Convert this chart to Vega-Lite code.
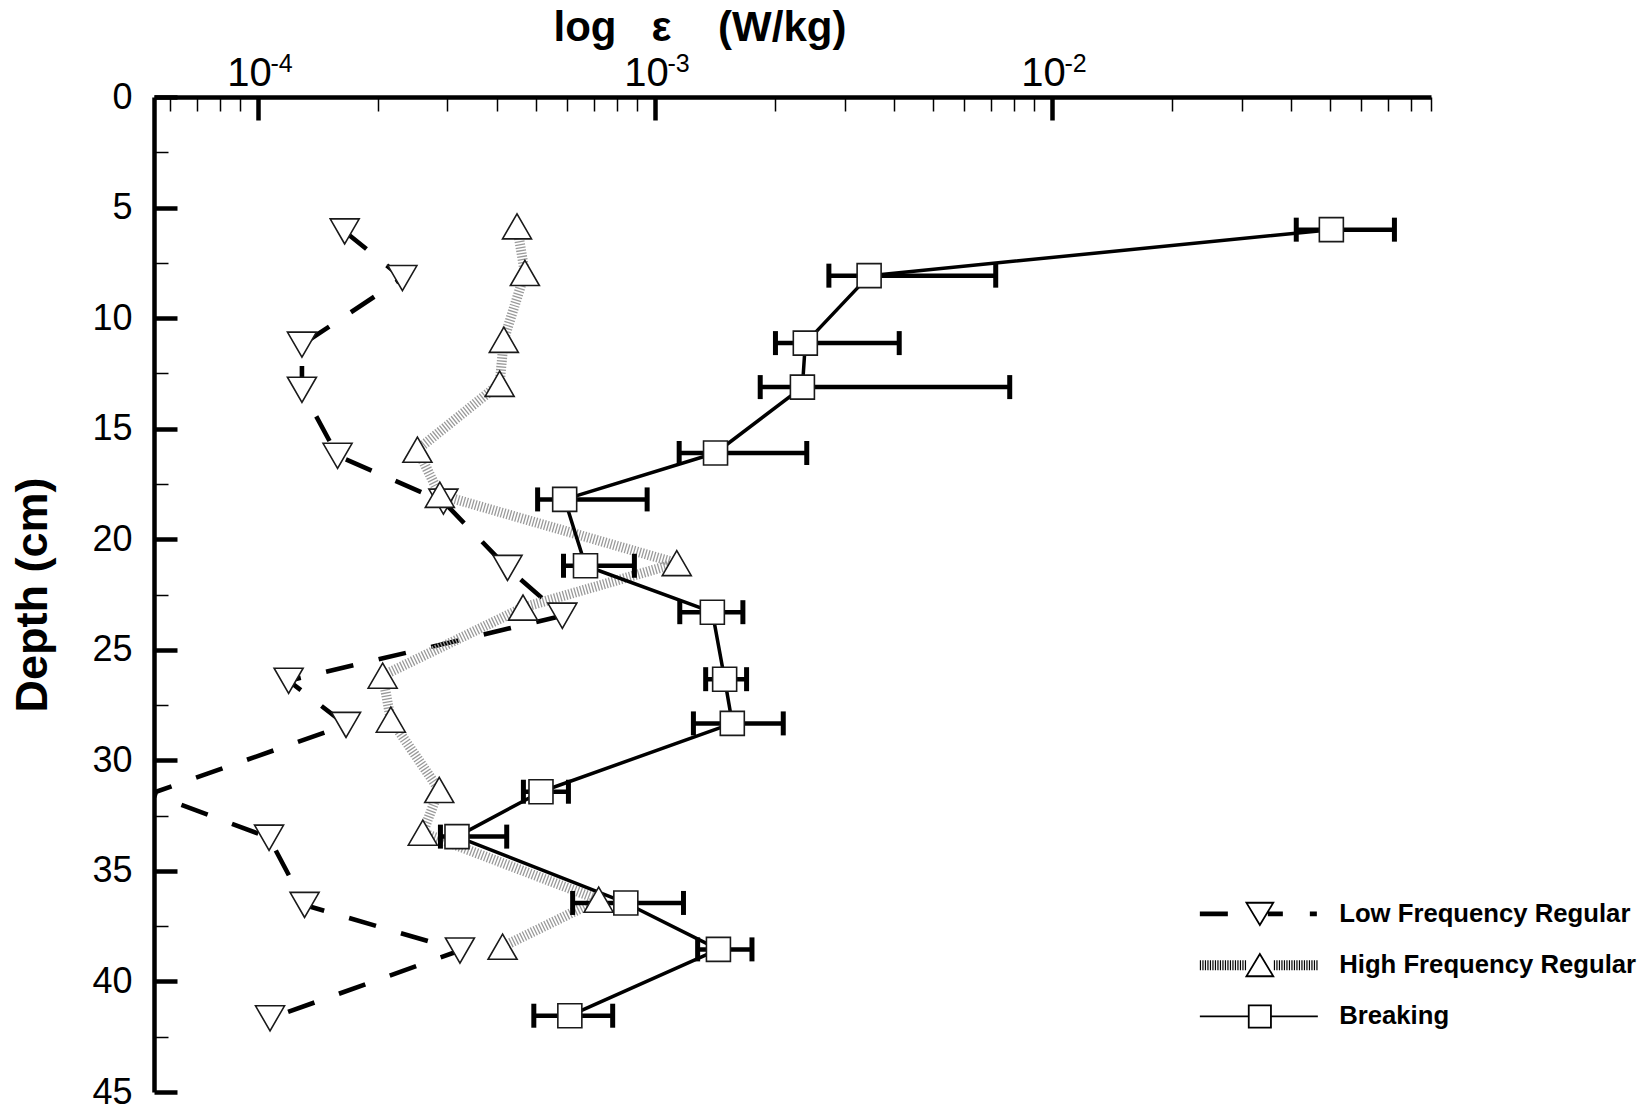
{
  "$schema": "https://vega.github.io/schema/vega-lite/v6.json",
  "width": 1277,
  "height": 995,
  "autosize": {"type": "none"},
  "padding": {"left": 154, "top": 97, "right": 212, "bottom": 18},
  "background": "white",
  "config": {
    "font": "Liberation Sans",
    "view": {"stroke": null},
    "axis": {"grid": false, "labelOverlap": false, "labelFlush": false, "labelBound": false}
  },
  "data": {
    "values": [
      {"series": "Low Frequency Regular", "depth": 6.08, "eps": 0.0001653},
      {"series": "Low Frequency Regular", "depth": 8.19, "eps": 0.000231},
      {"series": "Low Frequency Regular", "depth": 11.2, "eps": 0.000129},
      {"series": "Low Frequency Regular", "depth": 13.24, "eps": 0.000129},
      {"series": "Low Frequency Regular", "depth": 16.23, "eps": 0.0001586},
      {"series": "Low Frequency Regular", "depth": 18.3, "eps": 0.000293},
      {"series": "Low Frequency Regular", "depth": 21.3, "eps": 0.000425},
      {"series": "Low Frequency Regular", "depth": 23.46, "eps": 0.000584},
      {"series": "Low Frequency Regular", "depth": 26.4, "eps": 0.0001194},
      {"series": "Low Frequency Regular", "depth": 28.4, "eps": 0.0001666},
      {"series": "Low Frequency Regular", "depth": 31.5, "eps": 0.0000538},
      {"series": "Low Frequency Regular", "depth": 33.5, "eps": 0.0001066},
      {"series": "Low Frequency Regular", "depth": 36.54, "eps": 0.000131},
      {"series": "Low Frequency Regular", "depth": 38.6, "eps": 0.0003225},
      {"series": "Low Frequency Regular", "depth": 41.67, "eps": 0.0001072},
      {"series": "High Frequency Regular", "depth": 5.85, "eps": 0.000449},
      {"series": "High Frequency Regular", "depth": 7.96, "eps": 0.00047},
      {"series": "High Frequency Regular", "depth": 10.98, "eps": 0.000416},
      {"series": "High Frequency Regular", "depth": 12.97, "eps": 0.000406},
      {"series": "High Frequency Regular", "depth": 15.95, "eps": 0.000252},
      {"series": "High Frequency Regular", "depth": 17.99, "eps": 0.000287},
      {"series": "High Frequency Regular", "depth": 21.08, "eps": 0.001134},
      {"series": "High Frequency Regular", "depth": 23.09, "eps": 0.000465},
      {"series": "High Frequency Regular", "depth": 26.17, "eps": 0.000206},
      {"series": "High Frequency Regular", "depth": 28.16, "eps": 0.000216},
      {"series": "High Frequency Regular", "depth": 31.34, "eps": 0.000286},
      {"series": "High Frequency Regular", "depth": 33.27, "eps": 0.00026},
      {"series": "High Frequency Regular", "depth": 36.3, "eps": 0.000721},
      {"series": "High Frequency Regular", "depth": 38.43, "eps": 0.000413},
      {"series": "Breaking", "depth": 6.0, "eps": 0.0505, "lo": 0.0412, "hi": 0.0728},
      {"series": "Breaking", "depth": 8.08, "eps": 0.00346, "lo": 0.00274, "hi": 0.00721},
      {"series": "Breaking", "depth": 11.13, "eps": 0.00239, "lo": 0.00201, "hi": 0.00412},
      {"series": "Breaking", "depth": 13.12, "eps": 0.00235, "lo": 0.00184, "hi": 0.00782},
      {"series": "Breaking", "depth": 16.1, "eps": 0.00142, "lo": 0.00115, "hi": 0.00241},
      {"series": "Breaking", "depth": 18.2, "eps": 0.000592, "lo": 0.000506, "hi": 0.000955},
      {"series": "Breaking", "depth": 21.2, "eps": 0.000668, "lo": 0.000588, "hi": 0.000887},
      {"series": "Breaking", "depth": 23.3, "eps": 0.001394, "lo": 0.001154, "hi": 0.001664},
      {"series": "Breaking", "depth": 26.33, "eps": 0.001497, "lo": 0.001341, "hi": 0.0017},
      {"series": "Breaking", "depth": 28.33, "eps": 0.001565, "lo": 0.001249, "hi": 0.002103},
      {"series": "Breaking", "depth": 31.42, "eps": 0.000516, "lo": 0.000466, "hi": 0.000605},
      {"series": "Breaking", "depth": 33.45, "eps": 0.000317, "lo": 0.000288, "hi": 0.000423},
      {"series": "Breaking", "depth": 36.45, "eps": 0.000844, "lo": 0.00062, "hi": 0.001179},
      {"series": "Breaking", "depth": 38.55, "eps": 0.001444, "lo": 0.00128, "hi": 0.001754},
      {"series": "Breaking", "depth": 41.55, "eps": 0.00061, "lo": 0.000495, "hi": 0.000782}
    ]
  },
  "resolve": {"axis": {"x": "independent", "y": "independent"}, "scale": {"shape": "independent"}},
  "layer": [
    {
      "transform": [{"filter": "datum.series === 'Low Frequency Regular'"}],
      "mark": {"type": "line", "clip": true, "color": "black", "strokeWidth": 4.6, "strokeDash": [28, 26], "strokeCap": "butt", "strokeJoin": "round"},
      "encoding": {
        "x": {
          "field": "eps", "type": "quantitative",
          "scale": {"type": "log", "domain": [0.0000547, 0.09], "nice": false},
          "axis": {
            "orient": "top",
            "values": [0.00006, 0.00007, 0.00008, 0.00009, 0.0001, 0.0002, 0.0003, 0.0004, 0.0005, 0.0006, 0.0007, 0.0008, 0.0009, 0.001, 0.002, 0.003, 0.004, 0.005, 0.006, 0.007, 0.008, 0.009, 0.01, 0.02, 0.03, 0.04, 0.05, 0.06, 0.07, 0.08, 0.09],
            "labels": false,
            "domain": true, "domainColor": "black", "domainWidth": 4.5,
            "ticks": true, "tickColor": "black",
            "tickSize": {"condition": {"test": "datum.value === 0.0001 || datum.value === 0.001 || datum.value === 0.01", "value": -23}, "value": -14},
            "tickWidth": {"condition": {"test": "datum.value === 0.0001 || datum.value === 0.001 || datum.value === 0.01", "value": 4.5}, "value": 1.5},
            "grid": false,
            "title": "log\u00a0\u00a0\u00a0\u03b5\u00a0\u00a0\u00a0\u00a0(W/kg)",
            "titleFontSize": 42, "titleFontWeight": "bold", "titleColor": "black",
            "titleX": 399, "titleY": -57, "titleAlign": "left", "titleBaseline": "alphabetic", "titleAngle": 0
          }
        },
        "y": {
          "field": "depth", "type": "quantitative",
          "scale": {"domain": [0, 45], "reverse": true, "nice": false, "zero": false},
          "axis": {
            "orient": "left",
            "values": [0, 2.5, 5, 7.5, 10, 12.5, 15, 17.5, 20, 22.5, 25, 27.5, 30, 32.5, 35, 37.5, 40, 42.5, 45],
            "labels": false,
            "domain": true, "domainColor": "black", "domainWidth": 4.5,
            "ticks": true, "tickColor": "black",
            "tickSize": {"condition": {"test": "datum.value % 5 === 0", "value": -23}, "value": -14},
            "tickWidth": {"condition": {"test": "datum.value % 5 === 0", "value": 4.5}, "value": 1.5},
            "grid": false,
            "title": "Depth (cm)",
            "titleFontSize": 45, "titleFontWeight": "bold", "titleColor": "black",
            "titleAngle": -90, "titleX": -108, "titleY": 497.5, "titleAlign": "center", "titleBaseline": "alphabetic"
          }
        },
        "order": {"field": "depth", "type": "quantitative"}
      }
    },
    {
      "transform": [{"filter": "datum.series === 'High Frequency Regular'"}],
      "mark": {"type": "line", "clip": true, "color": "#9a9a9a", "strokeWidth": 10, "strokeDash": [1.3, 1.7], "strokeCap": "butt", "strokeJoin": "round"},
      "encoding": {
        "x": {"field": "eps", "type": "quantitative", "scale": {"type": "log", "domain": [0.0000547, 0.09], "nice": false}, "axis": null},
        "y": {"field": "depth", "type": "quantitative", "scale": {"domain": [0, 45], "reverse": true, "nice": false, "zero": false}, "axis": null},
        "order": {"field": "depth", "type": "quantitative"}
      }
    },
    {
      "transform": [{"filter": "datum.series === 'Breaking'"}],
      "mark": {"type": "line", "clip": true, "color": "black", "strokeWidth": 3.5, "strokeJoin": "round"},
      "encoding": {
        "x": {"field": "eps", "type": "quantitative", "scale": {"type": "log", "domain": [0.0000547, 0.09], "nice": false}, "axis": null},
        "y": {"field": "depth", "type": "quantitative", "scale": {"domain": [0, 45], "reverse": true, "nice": false, "zero": false}, "axis": null},
        "order": {"field": "depth", "type": "quantitative"}
      }
    },
    {
      "transform": [{"filter": "isValid(datum.lo)"}],
      "mark": {"type": "rule", "color": "black", "strokeWidth": 4.5},
      "encoding": {
        "x": {
          "field": "lo", "type": "quantitative",
          "scale": {"type": "log", "domain": [0.0000547, 0.09], "nice": false},
          "axis": {
            "orient": "top", "values": [0.0001, 0.001, 0.01], "labelExpr": "'10'",
            "ticks": false, "tickSize": 0, "domain": false, "grid": false, "title": null,
            "labelFontSize": 40, "labelColor": "black", "labelPadding": 12, "labelBaseline": "alphabetic", "labelAlign": "center", "labelOffset": -9
          }
        },
        "x2": {"field": "hi"},
        "y": {
          "field": "depth", "type": "quantitative",
          "scale": {"domain": [0, 45], "reverse": true, "nice": false, "zero": false},
          "axis": {
            "orient": "left", "values": [0, 5, 10, 15, 20, 25, 30, 35, 40, 45],
            "ticks": false, "tickSize": 0, "domain": false, "grid": false, "title": null,
            "labelFontSize": 36, "labelColor": "black", "labelPadding": 22, "labelBaseline": "middle"
          }
        }
      }
    },
    {
      "transform": [{"filter": "isValid(datum.lo)"}],
      "mark": {"type": "tick", "orient": "vertical", "color": "black", "thickness": 5, "size": 24, "opacity": 1},
      "encoding": {
        "x": {
          "field": "lo", "type": "quantitative",
          "scale": {"type": "log", "domain": [0.0000547, 0.09], "nice": false},
          "axis": {
            "orient": "top", "values": [0.0001, 0.001, 0.01],
            "labelExpr": "datum.value === 0.0001 ? '-4' : (datum.value === 0.001 ? '-3' : '-2')",
            "ticks": false, "tickSize": 0, "domain": false, "grid": false, "title": null,
            "labelFontSize": 25, "labelColor": "black", "labelPadding": 26, "labelBaseline": "alphabetic", "labelAlign": "center", "labelOffset": 23
          }
        },
        "y": {
          "field": "depth", "type": "quantitative",
          "scale": {"domain": [0, 45], "reverse": true, "nice": false, "zero": false},
          "axis": null
        }
      }
    },
    {
      "transform": [{"filter": "isValid(datum.hi)"}],
      "mark": {"type": "tick", "orient": "vertical", "color": "black", "thickness": 5, "size": 24, "opacity": 1},
      "encoding": {
        "x": {"field": "hi", "type": "quantitative", "scale": {"type": "log", "domain": [0.0000547, 0.09], "nice": false}, "axis": null},
        "y": {"field": "depth", "type": "quantitative", "scale": {"domain": [0, 45], "reverse": true, "nice": false, "zero": false}, "axis": null}
      }
    },
    {
      "transform": [{"filter": "datum.eps >= 0.0000547"}],
      "mark": {"type": "point", "filled": true, "fill": "white", "stroke": "#1a1a1a", "strokeWidth": 1.6, "opacity": 1},
      "encoding": {
        "x": {"field": "eps", "type": "quantitative", "scale": {"type": "log", "domain": [0.0000547, 0.09], "nice": false}, "axis": null},
        "y": {"field": "depth", "type": "quantitative", "scale": {"domain": [0, 45], "reverse": true, "nice": false, "zero": false}, "axis": null},
        "shape": {
          "field": "series", "type": "nominal",
          "scale": {"domain": ["Low Frequency Regular", "High Frequency Regular", "Breaking"], "range": ["triangle-down", "triangle-up", "square"]},
          "legend": null
        },
        "size": {
          "field": "series", "type": "nominal",
          "scale": {"type": "ordinal", "domain": ["Low Frequency Regular", "High Frequency Regular", "Breaking"], "range": [841, 841, 576]},
          "legend": null
        }
      }
    },
    {
      "transform": [{"filter": "false"}],
      "mark": {"type": "point", "filled": true, "size": 4, "strokeWidth": 0, "opacity": 1},
      "encoding": {
        "x": {"field": "eps", "type": "quantitative", "scale": {"type": "log", "domain": [0.0000547, 0.09], "nice": false}, "axis": null},
        "y": {"field": "depth", "type": "quantitative", "scale": {"domain": [0, 45], "reverse": true, "nice": false, "zero": false}, "axis": null},
        "shape": {
          "field": "series", "type": "nominal",
          "scale": {
            "domain": ["Low Frequency Regular", "High Frequency Regular", "Breaking"],
            "range": [
              "M-60,-2.3H-32V2.3H-60Z M8,-2.3H23V2.3H8Z M50,-2.3H57V2.3H50Z M-15,-12L15,-12L0,13Z M-11.82,-10.2L0,9.5L11.82,-10.2Z",
              "M-60,-5H-58.8V5H-60Z M-57.5,-5H-56.3V5H-57.5Z M-55,-5H-53.8V5H-55Z M-52.5,-5H-51.3V5H-52.5Z M-50,-5H-48.8V5H-50Z M-47.5,-5H-46.3V5H-47.5Z M-45,-5H-43.8V5H-45Z M-42.5,-5H-41.3V5H-42.5Z M-40,-5H-38.8V5H-40Z M-37.5,-5H-36.3V5H-37.5Z M-35,-5H-33.8V5H-35Z M-32.5,-5H-31.3V5H-32.5Z M-30,-5H-28.8V5H-30Z M-27.5,-5H-26.3V5H-27.5Z M-25,-5H-23.8V5H-25Z M-22.5,-5H-21.3V5H-22.5Z M-20,-5H-18.8V5H-20Z M-17.5,-5H-16.3V5H-17.5Z M-15,-5H-13.8V5H-15Z M14,-5H15.2V5H14Z M16.5,-5H17.7V5H16.5Z M19,-5H20.2V5H19Z M21.5,-5H22.7V5H21.5Z M24,-5H25.2V5H24Z M26.5,-5H27.7V5H26.5Z M29,-5H30.2V5H29Z M31.5,-5H32.7V5H31.5Z M34,-5H35.2V5H34Z M36.5,-5H37.7V5H36.5Z M39,-5H40.2V5H39Z M41.5,-5H42.7V5H41.5Z M44,-5H45.2V5H44Z M46.5,-5H47.7V5H46.5Z M49,-5H50.2V5H49Z M51.5,-5H52.7V5H51.5Z M54,-5H55.2V5H54Z M56.5,-5H57.7V5H56.5Z M0,-13L15,12L-15,12Z M0,-9.5L-11.82,10.2L11.82,10.2Z",
              "M-60,-0.9H-12V0.9H-60Z M12,-0.9H58V0.9H12Z M-12,-12H12V12H-12Z M-10.2,-10.2V10.2H10.2V-10.2Z"
            ]
          },
          "legend": {
            "orient": "none", "legendX": 1093, "legendY": 804, "title": null, "direction": "vertical",
            "padding": 0, "rowPadding": 24.3,
            "labelFontSize": 25.7, "labelFontWeight": "bold", "labelColor": "black", "labelOffset": 66.5, "labelLimit": 400,
            "symbolSize": 4, "symbolStrokeWidth": 0, "symbolOpacity": 1
          }
        },
        "fill": {
          "field": "series", "type": "nominal",
          "scale": {"domain": ["Low Frequency Regular", "High Frequency Regular", "Breaking"], "range": ["#000000", "#666666", "#000000"]},
          "legend": {
            "orient": "none", "legendX": 1093, "legendY": 804, "title": null, "direction": "vertical",
            "padding": 0, "rowPadding": 24.3,
            "labelFontSize": 25.7, "labelFontWeight": "bold", "labelColor": "black", "labelOffset": 66.5, "labelLimit": 400,
            "symbolSize": 4, "symbolStrokeWidth": 0, "symbolOpacity": 1
          }
        }
      }
    }
  ]
}
